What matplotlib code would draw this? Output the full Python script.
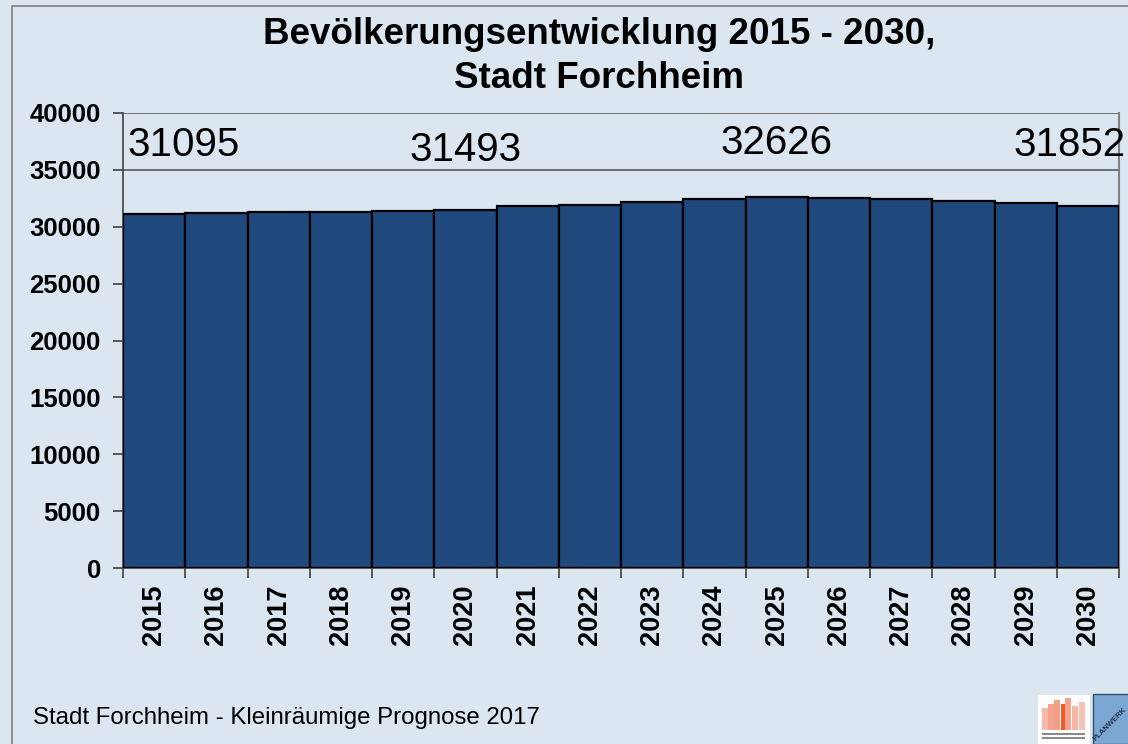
import matplotlib.pyplot as plt
from matplotlib.patches import Rectangle
import numpy as np

plt.rcParams['font.family'] = ['Liberation Sans', 'DejaVu Sans']

# Bevoelkerung je Jahr
years = ["2015", "2016", "2017", "2018", "2019", "2020", "2021", "2022",
         "2023", "2024", "2025", "2026", "2027", "2028", "2029", "2030"]
population = [31095, 31200, 31330, 31300, 31420, 31493, 31800, 31950,
              32150, 32400, 32626, 32520, 32420, 32250, 32080, 31852]
labelled = ["2015", "2020", "2025", "2030"]
y_ticks = [0, 5000, 10000, 15000, 20000, 25000, 30000, 35000, 40000]

bg = "#DCE6F1"
bar_col = "#1F497D"

fig = plt.figure(figsize=(11.28, 7.44), dpi=100)
fig.patch.set_facecolor(bg)

# Rahmen um die Folie
fig.patches.append(Rectangle((12/1128, -0.1), 1.2, 1.1 - 6/744, transform=fig.transFigure,
                             fill=False, edgecolor="#7F7F7F", linewidth=1.2))

ax = fig.add_axes([123/1128, 1 - 568/744, 996/1128, 455/744])
ax.set_facecolor(bg)

x = np.arange(len(years))
ax.bar(x, population, width=1.0, color=bar_col, edgecolor="black", linewidth=1.6, zorder=3)

ax.set_xlim(-0.5, len(years) - 0.5)
ax.set_ylim(0, 40000)
ax.set_yticks(y_ticks)
ax.set_yticklabels([str(v) for v in y_ticks], fontsize=18.5, fontweight="bold")
ax.yaxis.grid(True, color="#5A5A5A", linewidth=1.2, zorder=0)

# Striche zwischen den Kategorien, Beschriftung in der Mitte
ax.set_xticks(np.arange(len(years) + 1) - 0.5)
ax.set_xticklabels([])
ax.set_xticks(x, minor=True)
ax.set_xticklabels(years, minor=True, rotation=90, fontsize=19.5, fontweight="bold")
ax.tick_params(axis="x", which="minor", length=0, pad=12)
ax.tick_params(axis="x", which="major", length=7, color="#404040", width=1.2)
ax.tick_params(axis="y", length=7, color="#404040", width=1.2, pad=9)

for s in ["left", "bottom"]:
    ax.spines[s].set_color("#404040")
    ax.spines[s].set_linewidth(1.2)
ax.spines["top"].set_visible(False)
ax.spines["right"].set_color("#808080")
ax.spines["right"].set_linewidth(1.5)

# Wertebeschriftungen
dx = [0.48, 0.0, 0.0, -0.29]
ly = [37200, 36750, 37350, 37200]
for i, yr in enumerate(labelled):
    k = years.index(yr)
    ax.text(k + dx[i], ly[i], str(population[k]), ha="center", va="center",
            fontsize=29, color="black", clip_on=False, zorder=5)

fig.text(599/1128, 1 - 35/744, "Bevölkerungsentwicklung 2015 - 2030,", ha="center", va="center",
         fontsize=26.5, fontweight="bold")
fig.text(599/1128, 1 - 78/744, "Stadt Forchheim", ha="center", va="center",
         fontsize=26.5, fontweight="bold")

fig.text(33/1128, 1 - 718/744, "Stadt Forchheim - Kleinräumige Prognose 2017", ha="left", va="center",
         fontsize=17.3)

# Logos unten rechts
fig.patches.append(Rectangle((1038/1128, 0), 52/1128, 49/744, transform=fig.transFigure,
                             facecolor="white", edgecolor="none"))
for bx, bh, c in [(1042, 36, "#F6B8A8"), (1048, 40, "#F4A48E"), (1054, 44, "#F3A088"),
                  (1061, 40, "#F05A28"), (1065, 46, "#F4A48E"), (1072, 38, "#F6B4A2"),
                  (1079, 42, "#F7C2B4")]:
    fig.patches.append(Rectangle((bx/1128, 14/744), 6/1128, (bh - 14)/744,
                                 transform=fig.transFigure, facecolor=c, edgecolor="none"))
for ty in [5, 9]:
    fig.patches.append(Rectangle((1042/1128, ty/744), 43/1128, 2/744,
                                 transform=fig.transFigure, facecolor="#8A8A8A", edgecolor="none"))
fig.patches.append(Rectangle((1093/1128, 0), 40/1128, 50/744, transform=fig.transFigure,
                             facecolor="#7BA7D2", edgecolor="#2F4F6F", linewidth=1))
fig.text(1110/1128, 1 - 724/744, "PLANWERK", rotation=45, fontsize=5.5, fontweight="bold",
         color="#1F3050", ha="center", va="center")

fig.savefig("out.png", dpi=100, facecolor=bg)
